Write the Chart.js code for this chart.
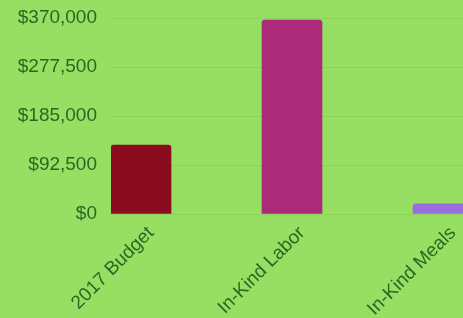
<!DOCTYPE html>
<html>
<head>
<meta charset="utf-8">
<script src="https://cdn.jsdelivr.net/npm/chart.js@4"></script>
<style>
	html, body { margin: 0; padding: 0; background: #96df63; overflow: hidden; }
	#wrap { position: relative; width: 463px; height: 318px; }
</style>
</head>
<body>
<div id="wrap"><canvas id="chart"></canvas></div>
<script>
// Budget vs in-kind contributions

const categories = ["2017 Budget", "In-Kind Labor", "In-Kind Meals"];
const amounts = [130000, 366000, 19000];
const barColors = ["#8b0b1f", "#ab2a79", "#9a6ce0"];
const yTicks = [0, 92500, 185000, 277500, 370000];

const TEXT = "#2d6622";
const GRID = "#8ad25c";

const points = categories.map((c, i) => ({ x: i, y: amounts[i] }));

new Chart(document.getElementById("chart"), {
	type: "bar",
	data: {
		datasets: [
			{
				data: points,
				backgroundColor: barColors,
				borderWidth: 0,
				borderRadius: 3,
				barThickness: 60,
			},
		],
	},
	options: {
		responsive: true,
		maintainAspectRatio: false,
		animation: false,
		layout: { padding: { top: 18, left: 0, right: 0, bottom: 0 } },
		plugins: {
			legend: { display: false },
			tooltip: { enabled: false },
		},
		scales: {
			x: {
				type: "linear",
				offset: false,
				min: -30 / 151,
				max: 2 + 20 / 151,
				afterBuildTicks: (axis) => {
					axis.ticks = categories.map((_, i) => ({ value: i }));
				},
				afterFit: (axis) => {
					axis.height = 104;
					axis.paddingLeft = 0;
					axis.paddingRight = 0;
				},
				grid: { display: false, drawTicks: false, offset: false },
				border: { display: false },
				ticks: {
					minRotation: 45,
					maxRotation: 45,
					padding: 8,
					labelOffset: 10,
					color: TEXT,
					font: { family: "'Liberation Sans', Arial, sans-serif", size: 19 },
					callback: (value) => categories[value] ?? "",
				},
			},
			y: {
				min: 0,
				max: 370000,
				afterBuildTicks: (axis) => {
					axis.ticks = yTicks.map((v) => ({ value: v }));
				},
				afterFit: (axis) => {
					axis.width = 111;
					axis.paddingTop = 0;
					axis.paddingBottom = 0;
				},
				grid: { color: GRID, lineWidth: 1, drawTicks: false },
				border: { display: false },
				ticks: {
					padding: 14,
					color: TEXT,
					font: { family: "'Liberation Sans', Arial, sans-serif", size: 19 },
					callback: (value) => "$" + value.toLocaleString("en-US"),
				},
			},
		},
	},
});
</script>
</body>
</html>
